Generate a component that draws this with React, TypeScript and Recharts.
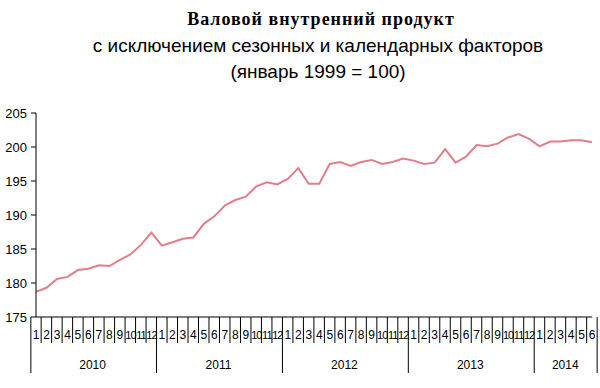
import { Line, LineChart, XAxis, YAxis } from 'recharts';

const years = [2010, 2011, 2012, 2013, 2014];
const monthsPerYear = [12, 12, 12, 12, 6];
const yTicks = [175, 180, 185, 190, 195, 200, 205];

const gdp2010 = [178.7, 179.3, 180.6, 180.9, 181.9, 182.1, 182.6, 182.5, 183.4, 184.2, 185.6, 187.4];
const gdp2011 = [185.5, 186.0, 186.5, 186.7, 188.7, 189.8, 191.4, 192.2, 192.7, 194.2, 194.8, 194.5];
const gdp2012 = [195.3, 196.9, 194.6, 194.6, 197.5, 197.8, 197.2, 197.8, 198.1, 197.5, 197.8, 198.3];
const gdp2013 = [198.0, 197.5, 197.7, 199.7, 197.7, 198.6, 200.3, 200.1, 200.5, 201.4, 201.9, 201.2];
const gdp2014 = [200.1, 200.8, 200.8, 201.0, 201.0, 200.7];

const series = [gdp2010, gdp2011, gdp2012, gdp2013, gdp2014];

const data = years.flatMap((year, yi) =>
  series[yi].map((v, mi) => ({
    key: `${year}-${mi + 1}`,
    month: mi + 1,
    year,
    yearSize: monthsPerYear[yi],
    value: v,
  }))
);

const PLOT_LEFT = 36;
const PLOT_RIGHT = 8;
const BAND = (600 - PLOT_LEFT - PLOT_RIGHT) / data.length;
const FONT = 'Liberation Sans, Arial, sans-serif';

function MonthTick(props: any) {
  const { x, y, payload } = props;
  const d = data[payload.index];
  if (!d) return null;
  const right = x + BAND / 2;
  const left = x - BAND / 2;
  const yearEnd = d.month === d.yearSize;
  const wide = d.month >= 10;
  return (
    <g>
      {payload.index === 0 && <line x1={left} x2={left} y1={y} y2={y + 56} stroke="#000" />}
      <line x1={right} x2={right} y1={y} y2={yearEnd ? y + 56 : y + 26} stroke="#000" />
      <text
        x={x}
        y={y + 22}
        textAnchor="middle"
        fontSize={wide ? 11 : 12}
        letterSpacing={wide ? -1 : 0}
        fill="#000"
        fontFamily={FONT}
      >
        {d.month}
      </text>
      {d.month === 1 && (
        <text x={left + (d.yearSize * BAND) / 2} y={y + 52} textAnchor="middle" fontSize={12} fill="#000" fontFamily={FONT}>
          {d.year}
        </text>
      )}
    </g>
  );
}

export default function App() {
  return (
    <div style={{ position: 'absolute', left: 0, top: 0, width: 600, height: 388, background: '#fff' }}>
      <div
        style={{
          position: 'absolute', left: 21, top: 9, width: 600, textAlign: 'center',
          fontFamily: 'Liberation Serif, serif', fontWeight: 'bold', fontSize: 18, letterSpacing: 1,
        }}
      >
        Валовой внутренний продукт
      </div>
      <div style={{ position: 'absolute', left: 18, top: 35, width: 600, textAlign: 'center', fontFamily: FONT, fontSize: 19 }}>
        с исключением сезонных и календарных факторов
      </div>
      <div style={{ position: 'absolute', left: 18, top: 61, width: 600, textAlign: 'center', fontFamily: FONT, fontSize: 19 }}>
        (январь 1999 = 100)
      </div>
      <div style={{ position: 'absolute', left: 0, top: 0 }}>
        <LineChart width={600} height={388} data={data} margin={{ top: 113, right: PLOT_RIGHT, bottom: 0, left: 0 }}>
          <XAxis
            dataKey="key"
            interval={0}
            height={71}
            tickSize={0}
            tickMargin={0}
            tickLine={false}
            axisLine={{ stroke: '#000' }}
            tick={<MonthTick />}
          />
          <YAxis
            width={PLOT_LEFT}
            domain={[175, 205]}
            ticks={yTicks}
            tickSize={5}
            tickMargin={4}
            axisLine={{ stroke: '#000' }}
            tickLine={{ stroke: '#000' }}
            tick={{ fill: '#000', fontSize: 13, fontFamily: FONT }}
          />
          <Line type="linear" dataKey="value" stroke="#e27d8a" strokeWidth={2} dot={false} isAnimationActive={false} />
        </LineChart>
      </div>
    </div>
  );
}
